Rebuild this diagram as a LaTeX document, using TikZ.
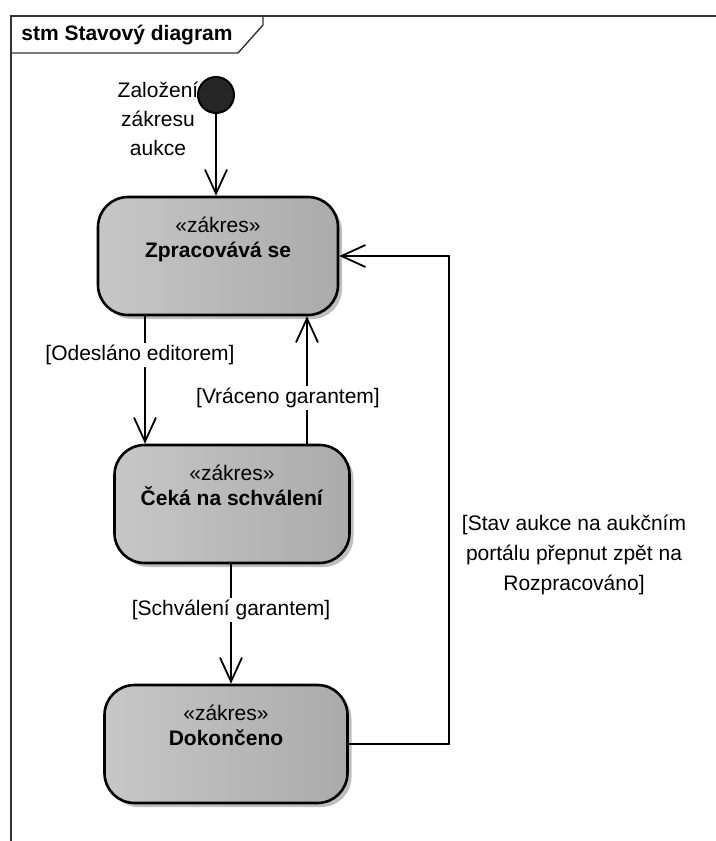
\documentclass[tikz,border=0pt]{standalone}
\usepackage{fontspec}
\setmainfont{Liberation Sans}
\usetikzlibrary{arrows.meta,shadows}

\begin{document}
\begin{tikzpicture}[x=0.5pt,y=-0.5pt,
    font=\fontsize{10.5}{12.5}\selectfont,
    state/.style={rectangle,rounded corners=15pt,draw=black,line width=1.3pt,
        left color=black!22,right color=black!33,
        drop shadow={shadow xshift=2pt,shadow yshift=-2pt,fill=black!25,opacity=1},
        align=center,inner sep=0pt,text height=8pt,text depth=6.5pt,
        minimum height=59pt},
    trans/.style={line width=0.9pt,-{Straight Barb[length=12pt,width=11pt,line width=0.9pt]}},
    guard/.style={fill=white,inner sep=1pt,align=center}]
    \useasboundingbox (0,0) rectangle (716,841);
    \clip (0,0) rectangle (716,841);

    % diagram frame with name tab
    \draw[line width=0.7pt,black!80] (11,16) rectangle (760,880);
    \draw[line width=0.7pt,black!80] (11,53) -- (238,53) -- (263,25) -- (263,16);
    \node[font=\fontsize{10.5}{12.5}\selectfont\bfseries] (title) at (127,35) {stm Stavový diagram};

    % initial state
    \node[circle,draw=black,line width=1pt,fill=black!85,minimum size=18pt,inner sep=0pt] (start) at (216,95) {};
    \node[align=center,font=\fontsize{10.5}{14.5}\selectfont] (startlbl) at (158,119) {Založení\\zákresu\\aukce};

    % states
    \node[state,minimum width=120pt] (zprac) at (218,256) {«zákres»\\\textbf{Zpracovává se}};
    \node[state,minimum width=117.5pt] (ceka) at (232,504) {«zákres»\\\textbf{Čeká na schválení}};
    \node[state,minimum width=121.5pt] (hotovo) at (226,744) {«zákres»\\\textbf{Dokončeno}};

    % x positions of the vertical transitions
    \coordinate (xodesl) at (145,0);
    \coordinate (xvrac) at (307,0);
    \coordinate (xschv) at (231,0);

    % transitions
    \draw[trans] (start) -- (start |- zprac.north);
    \draw[trans] (zprac.south -| xodesl) -- (ceka.north -| xodesl);
    \draw[trans] (ceka.north -| xvrac) -- (zprac.south -| xvrac);
    \draw[trans] (ceka.south -| xschv) -- (hotovo.north -| xschv);
    \draw[trans] (hotovo.east) -- ++(100,0) |- (zprac.east);

    % guards
    \node[guard] (godesl) at (140,355) {[Odesláno editorem]};
    \node[guard] (gvrac) at (288,398) {[Vráceno garantem]};
    \node[guard] (gschv) at (231,610) {[Schválení garantem]};
    \node[guard,font=\fontsize{10.5}{15}\selectfont] (gstav) at (574,555) {[Stav aukce na aukčním\\portálu přepnut zpět na\\Rozpracováno]};
\end{tikzpicture}
\end{document}
